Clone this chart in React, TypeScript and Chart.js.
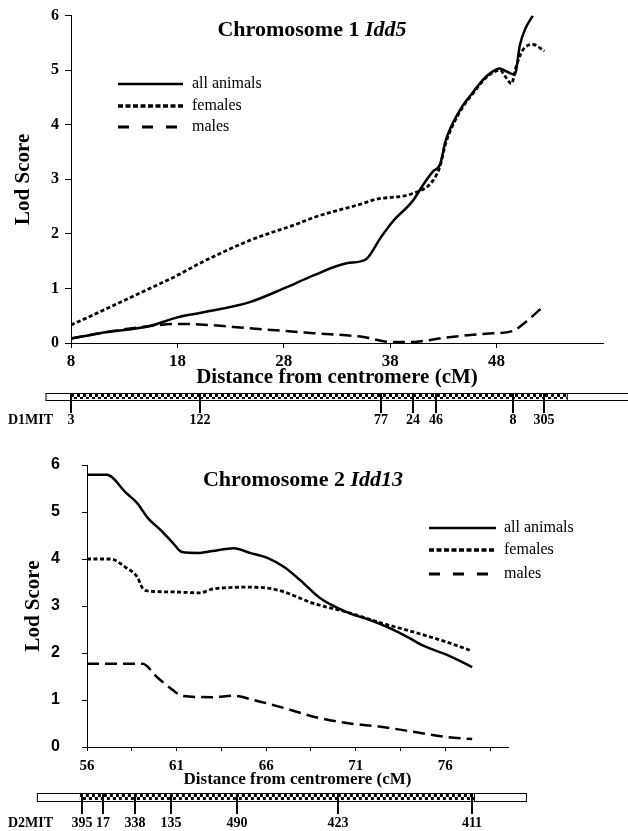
import React, { useEffect, useRef } from "react";
import { Chart, registerables } from "chart.js";

Chart.register(...registerables);

const SERIF = "'Liberation Serif', 'Times New Roman', serif";
const SANS = "'Liberation Sans', Arial, sans-serif";

// ---------- Chromosome 1 (Idd5) ----------
const c1AllX = [8, 10.7, 15.4, 18, 20.1, 24.8, 28, 30.8, 33.9, 35.7, 37.1, 38.3, 40.1, 41.1, 42.0, 42.7, 43.2, 44.5, 45.8, 47.0, 48.3, 48.9, 49.7, 50.2, 50.7, 51.4];
const c1AllY = [0.08, 0.18, 0.31, 0.47, 0.55, 0.75, 1.0, 1.24, 1.46, 1.53, 1.93, 2.24, 2.6, 2.9, 3.14, 3.28, 3.7, 4.25, 4.6, 4.88, 5.03, 4.98, 4.92, 5.47, 5.76, 6.0];
const c1FemX = [8, 10.7, 15.4, 18, 20.1, 24.8, 29.5, 30.8, 35.3, 36.6, 40.1, 42.0, 42.7, 43.2, 44.5, 45.8, 47.0, 48.3, 48.9, 49.4, 49.8, 50.4, 51.4, 52.5];
const c1FemY = [0.33, 0.57, 1.0, 1.24, 1.46, 1.88, 2.2, 2.3, 2.55, 2.63, 2.74, 2.97, 3.25, 3.65, 4.22, 4.58, 4.86, 5.0, 4.86, 4.75, 5.04, 5.35, 5.47, 5.35];
const c1MaleX = [8, 10.7, 15.4, 18, 20.1, 24.8, 30.8, 35.5, 38, 40, 43.2, 47, 49.5, 50.7, 52.5];
const c1MaleY = [0.08, 0.18, 0.31, 0.35, 0.34, 0.27, 0.18, 0.11, 0.02, 0.02, 0.1, 0.17, 0.22, 0.38, 0.69];
const c1XTicks = [8, 18, 28, 38, 48];
const c1MarkerNames = ["3", "122", "77", "24", "46", "8", "305"];
const c1MarkerPos = [8, 20.1, 37.1, 40.1, 42.3, 49.5, 52.5];
const c1Band = [5.6, 8, 54.6, 61]; // bar start, checker start, checker end, bar end (cM)

// ---------- Chromosome 2 (Idd13) ----------
const c2AllX = [56, 57.1, 58.2, 58.8, 59.4, 60.1, 60.8, 61.3, 62.3, 63.0, 64.2, 65.1, 66.1, 67.0, 67.9, 69.0, 70.5, 71.8, 72.9, 73.9, 74.8, 76.1, 77.5];
const c2AllY = [5.79, 5.79, 5.4, 5.19, 4.87, 4.62, 4.34, 4.15, 4.13, 4.17, 4.23, 4.13, 4.02, 3.83, 3.55, 3.17, 2.87, 2.7, 2.53, 2.34, 2.15, 1.96, 1.7];
const c2FemX = [56, 57.3, 58.2, 58.8, 59.1, 59.4, 60.8, 62.3, 63.0, 65.1, 66.1, 67.0, 68.6, 70.5, 72.4, 74.2, 76.1, 77.5];
const c2FemY = [4.0, 4.0, 3.81, 3.62, 3.38, 3.32, 3.3, 3.28, 3.36, 3.4, 3.38, 3.3, 3.06, 2.87, 2.64, 2.45, 2.23, 2.04];
const c2MaleX = [56, 59.1, 59.9, 60.8, 61.3, 63.0, 64.2, 65.3, 67.0, 68.7, 70.5, 72.4, 74.3, 76.1, 77.5];
const c2MaleY = [1.77, 1.77, 1.49, 1.21, 1.09, 1.06, 1.09, 1.0, 0.83, 0.64, 0.51, 0.43, 0.32, 0.21, 0.17];
const c2XLabels = [56, 61, 66, 71, 76];
const c2MarkerNames = ["395", "17", "338", "135", "490", "423", "411"];
const c2MarkerPos = [55.7, 56.9, 58.7, 60.7, 64.4, 70.0, 77.5];
const c2Band = [53.2, 55.6, 77.6, 80.5];

const seriesLabels = ["all animals", "females", "males"];

const pts = (xs: number[], ys: number[]) => xs.map((x, i) => ({ x, y: ys[i] }));

const lineStyles = [
  { borderWidth: 2.5, borderDash: [] as number[] },
  { borderWidth: 2.8, borderDash: [4, 2.5] },
  { borderWidth: 2.5, borderDash: [12, 6] },
];
const legendStyles = [
  { width: 2.5, dash: [] as number[] },
  { width: 3.5, dash: [5, 2.5] },
  { width: 3, dash: [11, 13] },
];

function makeOverlay(p: any) {
  return {
    id: "overlay",
    afterDraw(chart: any) {
      const ctx = chart.ctx as CanvasRenderingContext2D;
      const xs = chart.scales.x;
      ctx.save();
      // Title (mixed roman / italic)
      ctx.fillStyle = "#000";
      ctx.textBaseline = "middle";
      ctx.textAlign = "left";
      ctx.font = `bold ${p.titleSize}px ${SERIF}`;
      const w1 = ctx.measureText(p.title[0]).width;
      ctx.font = `italic bold ${p.titleSize}px ${SERIF}`;
      const w2 = ctx.measureText(p.title[1]).width;
      const tx = p.titleX - (w1 + w2) / 2;
      ctx.font = `bold ${p.titleSize}px ${SERIF}`;
      ctx.fillText(p.title[0], tx, p.titleY);
      ctx.font = `italic bold ${p.titleSize}px ${SERIF}`;
      ctx.fillText(p.title[1], tx + w1, p.titleY);

      // Legend
      chart.data.datasets.forEach((ds: any, i: number) => {
        const y = p.legendY[i];
        const st = legendStyles[i];
        ctx.beginPath();
        ctx.setLineDash(st.dash);
        ctx.lineWidth = st.width;
        ctx.strokeStyle = "#000";
        ctx.lineCap = "butt";
        ctx.moveTo(p.legendX0, y);
        ctx.lineTo(p.legendX1, y);
        ctx.stroke();
        ctx.setLineDash([]);
        ctx.fillStyle = "#000";
        ctx.font = `16px ${SERIF}`;
        ctx.fillText(ds.label, p.legendTextX, y);
      });

      // Chromosome bar
      const [b0, c0, c1, b1] = p.band;
      const px0 = xs.getPixelForValue(b0);
      const pc0 = xs.getPixelForValue(c0);
      const pc1 = xs.getPixelForValue(c1);
      const px1 = xs.getPixelForValue(b1);
      const top = p.barTop;
      const h = p.barHeight;
      ctx.fillStyle = "#fff";
      ctx.fillRect(px0, top, px1 - px0, h);
      const pc = document.createElement("canvas");
      pc.width = 6;
      pc.height = 6;
      const g = pc.getContext("2d")!;
      g.fillStyle = "#fff";
      g.fillRect(0, 0, 6, 6);
      g.fillStyle = "#000";
      g.fillRect(0, 0, 3, 3);
      g.fillRect(3, 3, 3, 3);
      const pat = ctx.createPattern(pc, "repeat")!;
      pat.setTransform(new DOMMatrix().translate(pc0, top + 1));
      ctx.fillStyle = pat;
      ctx.fillRect(pc0, top + 1, pc1 - pc0, h - 2);
      ctx.strokeStyle = "#000";
      ctx.lineWidth = 1;
      ctx.strokeRect(px0 + 0.5, top + 0.5, px1 - px0, h);
      ctx.beginPath();
      ctx.moveTo(pc1 + 0.5, top);
      ctx.lineTo(pc1 + 0.5, top + h);
      ctx.stroke();

      // Markers
      ctx.fillStyle = "#000";
      ctx.strokeStyle = "#000";
      ctx.lineWidth = 2;
      ctx.textAlign = "center";
      ctx.font = `bold ${p.markerSize}px ${SERIF}`;
      p.markerPos.forEach((v: number, i: number) => {
        const mx = Math.round(xs.getPixelForValue(v));
        ctx.beginPath();
        ctx.moveTo(mx, top);
        ctx.lineTo(mx, top + p.tickLen);
        ctx.stroke();
        ctx.fillText(p.markerNames[i], mx, p.labelY);
      });
      ctx.textAlign = "left";
      ctx.fillText(p.prefix, p.prefixX, p.labelY);
      ctx.restore();
    },
  };
}

function buildConfig(panel: any) {
  const datasets = panel.series.map((s: any, i: number) => ({
    label: seriesLabels[i],
    data: s,
    borderColor: "#000",
    backgroundColor: "#000",
    borderWidth: lineStyles[i].borderWidth,
    borderDash: lineStyles[i].borderDash,
    pointRadius: 0,
    fill: false,
    cubicInterpolationMode: "monotone",
  }));
  return {
    type: "line",
    data: { datasets },
    options: {
      animation: false,
      responsive: false,
      devicePixelRatio: 1,
      layout: { padding: panel.padding },
      plugins: { legend: { display: false }, tooltip: { enabled: false } },
      scales: {
        x: {
          type: "linear",
          min: panel.xMin,
          max: panel.xMax,
          afterBuildTicks: (s: any) => {
            s.ticks = panel.xTickValues.map((v: number) => ({ value: v }));
          },
          afterFit: (s: any) => {
            s.height = panel.xHeight;
          },
          grid: {
            display: true,
            drawOnChartArea: false,
            drawTicks: true,
            tickLength: panel.xTickLen,
            color: "#000",
            tickColor: "#000",
          },
          border: { display: true, color: "#000", width: 1 },
          ticks: {
            autoSkip: false,
            maxRotation: 0,
            padding: panel.xTickPad,
            color: "#000",
            font: { family: SERIF, size: panel.xTickSize, weight: "bold" },
            callback: (v: number) => (panel.xLabelValues.includes(v) ? String(v) : ""),
          },
          title: {
            display: true,
            text: "Distance from centromere (cM)",
            color: "#000",
            font: { family: SERIF, size: panel.xTitleSize, weight: "bold" },
            padding: { top: 0, bottom: 0 },
          },
        },
        y: {
          min: 0,
          max: 6,
          afterFit: (s: any) => {
            s.width = panel.yWidth;
          },
          grid: {
            display: true,
            drawOnChartArea: false,
            drawTicks: true,
            tickLength: panel.yTickLen,
            color: "#000",
            tickColor: "#000",
          },
          border: { display: true, color: "#000", width: 1 },
          ticks: {
            stepSize: 1,
            padding: panel.yTickPad,
            color: "#000",
            font: { family: panel.yTickFamily, size: 16, weight: "bold" },
          },
          title: {
            display: true,
            text: "Lod Score",
            color: "#000",
            font: { family: SERIF, size: 21, weight: "bold" },
            padding: { top: panel.yTitlePad, bottom: 0 },
          },
        },
      },
    },
    plugins: [makeOverlay(panel.overlay)],
  };
}

const H1 = 430;
const H2 = 401;

const panel1 = {
  series: [pts(c1AllX, c1AllY), pts(c1FemX, c1FemY), pts(c1MaleX, c1MaleY)],
  padding: { top: 14, left: 0, right: 25, bottom: 40 },
  xMin: 8,
  xMax: 58,
  xTickValues: c1XTicks,
  xLabelValues: c1XTicks,
  xHeight: 47,
  xTickLen: 5,
  xTickPad: 3,
  xTickSize: 17,
  xTitleSize: 21,
  yWidth: 71,
  yTickLen: 6,
  yTickPad: 6,
  yTickFamily: SERIF,
  yTitlePad: 11,
  overlay: {
    title: ["Chromosome 1 ", "Idd5"],
    titleSize: 22,
    titleX: 312,
    titleY: 30,
    legendX0: 118,
    legendX1: 183,
    legendTextX: 192,
    legendY: [84, 106, 127],
    band: c1Band,
    barTop: 393,
    barHeight: 7,
    tickLen: 20,
    labelY: 420,
    markerSize: 14,
    markerPos: c1MarkerPos,
    markerNames: c1MarkerNames,
    prefix: "D1MIT",
    prefixX: 8,
  },
};

const c2TickValues = [56, 58.5, 61, 63.5, 66, 68.5, 71, 73.5, 76, 78.5];

const panel2 = {
  series: [pts(c2AllX, c2AllY), pts(c2FemX, c2FemY), pts(c2MaleX, c2MaleY)],
  padding: { top: 35, left: 0, right: 120, bottom: 41 },
  xMin: 56,
  xMax: 79.5,
  xTickValues: c2TickValues,
  xLabelValues: c2XLabels,
  xHeight: 43,
  xTickLen: 4,
  xTickPad: 6,
  xTickSize: 15,
  xTitleSize: 17,
  yWidth: 87,
  yTickLen: 5,
  yTickPad: 22,
  yTickFamily: SANS,
  yTitlePad: 21,
  overlay: {
    title: ["Chromosome 2 ", "Idd13"],
    titleSize: 22,
    titleX: 303,
    titleY: 50,
    legendX0: 429,
    legendX1: 496,
    legendTextX: 504,
    legendY: [98, 120, 144],
    band: c2Band,
    barTop: 363,
    barHeight: 8,
    tickLen: 21,
    labelY: 393,
    markerSize: 14,
    markerPos: c2MarkerPos,
    markerNames: c2MarkerNames,
    prefix: "D2MIT",
    prefixX: 8,
  },
};

function Panel({ panel, top, height }: { panel: any; top: number; height: number }) {
  const ref = useRef<HTMLCanvasElement | null>(null);
  useEffect(() => {
    const chart = new Chart(ref.current as HTMLCanvasElement, buildConfig(panel) as any);
    return () => chart.destroy();
  }, []);
  return (
    <canvas
      ref={ref}
      width={628}
      height={height}
      style={{ position: "absolute", left: 0, top, width: 628, height }}
    />
  );
}

export default function App() {
  return (
    <div style={{ position: "absolute", left: 0, top: 0, width: 628, height: 831, background: "#fff" }}>
      <Panel panel={panel1} top={0} height={H1} />
      <Panel panel={panel2} top={H1} height={H2} />
    </div>
  );
}
